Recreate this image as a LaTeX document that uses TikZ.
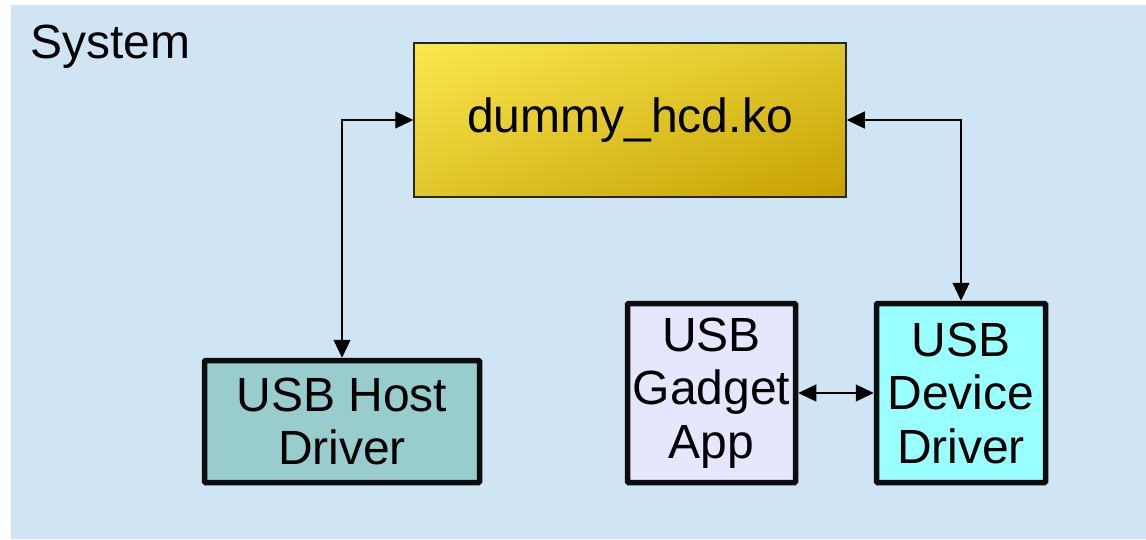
\documentclass[tikz,border=0pt]{standalone}
\usepackage{fontspec}
\setmainfont{Liberation Sans}
\usetikzlibrary{arrows.meta,shadings}
\definecolor{bgblue}{HTML}{CFE5F3}
\definecolor{hostfill}{HTML}{99CCCC}
\definecolor{gadgetfill}{HTML}{E6E6FF}
\definecolor{devfill}{HTML}{99FFFF}
\definecolor{gul}{HTML}{FAE84F}
\definecolor{glr}{HTML}{C7A000}
\definecolor{gmid}{HTML}{E0C62A}
\tikzset{
  txt/.style={font=\fontsize{48}{53.5}\selectfont, align=center, inner sep=0pt},
  blockbox/.style={txt, draw=black!95, line width=5.5pt, rounded corners=1pt},
  link/.style={line width=1.2pt, {Triangle[length=18pt,width=17pt]}-{Triangle[length=18pt,width=17pt]}},
}
\begin{document}
\begin{tikzpicture}[x=1pt,y=-1pt]
\useasboundingbox (0,0) rectangle (1146,539);
\fill[bgblue] (11,5) rectangle (1146,539);
\node[txt, anchor=base west] (sys) at (30,58) {System};
\node[txt, draw=black!85, line width=1.5pt,
      upper left=gul, lower right=glr, upper right=gmid, lower left=gmid,
      minimum width=432pt, minimum height=154pt] (dummy) at (630,120) {dummy\_hcd.ko};
\node[blockbox, fill=hostfill, minimum width=275pt, minimum height=122pt] (host) at (342,421.5) {USB Host\\Driver};
\node[blockbox, fill=gadgetfill, minimum width=168pt, minimum height=179pt] (gadget) at (711.5,393) {USB\\Gadget\\App};
\node[blockbox, fill=devfill, minimum width=169pt, minimum height=179pt] (device) at (961,393) {USB\\Device\\Driver};
\draw[link] (host.north) |- (dummy.west);
\draw[link] (dummy.east) -| (device.north);
\draw[link] (gadget.east) -- (device.west);
\end{tikzpicture}
\end{document}
